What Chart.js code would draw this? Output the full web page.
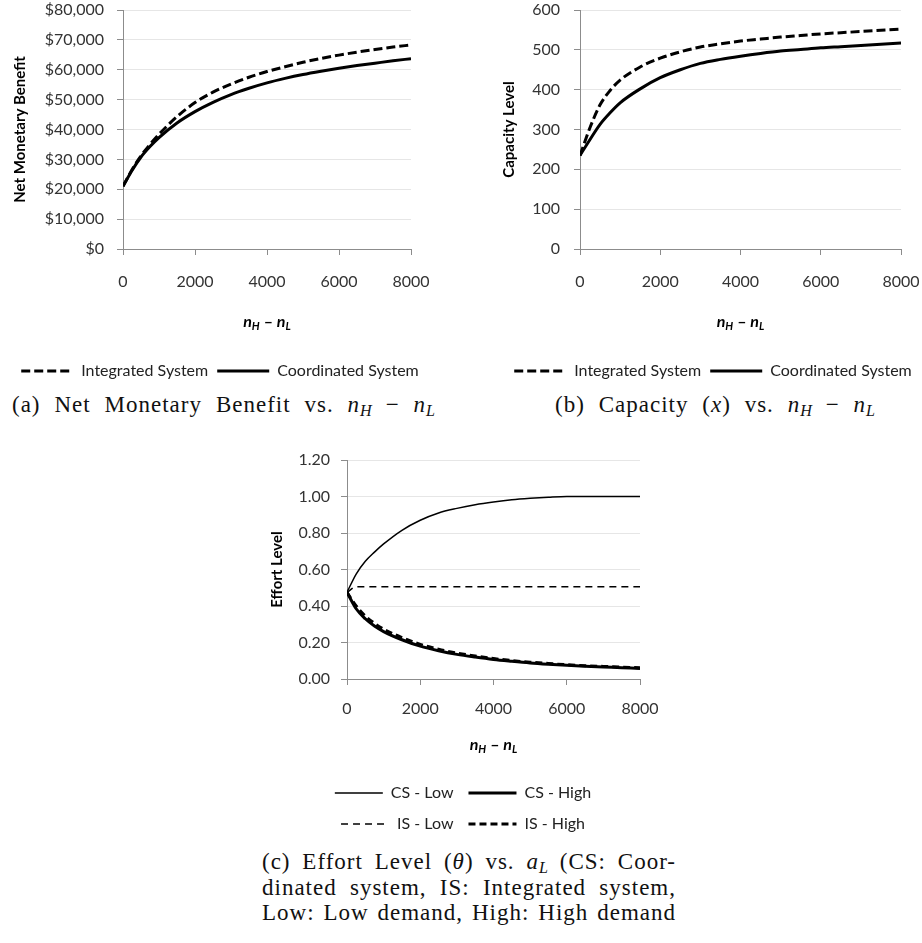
<!DOCTYPE html>
<html><head><meta charset="utf-8">
<script src="https://cdn.jsdelivr.net/npm/chart.js@4"></script>
<style>
html,body{margin:0;padding:0;background:#fff;width:922px;height:943px;overflow:hidden;position:relative;}
canvas{position:absolute;}
.cap{position:absolute;font-family:'Liberation Serif','Times New Roman',serif;font-size:23px;letter-spacing:1px;color:#111;text-align:justify;text-align-last:justify;line-height:26px;height:26px;overflow:visible;}
.cap sub{font-size:70%;vertical-align:-4px;line-height:0;letter-spacing:0;}
</style></head><body>
<canvas id="ca" width="440" height="392" style="left:0;top:0"></canvas>
<canvas id="cb" width="450" height="392" style="left:488px;top:0"></canvas>
<canvas id="cc" width="398" height="404" style="left:260px;top:440px"></canvas>
<div class="cap" style="left:12px;top:392px;width:423px">(a) Net Monetary Benefit vs. <i>n</i><sub><i>H</i></sub> − <i>n</i><sub><i>L</i></sub></div>
<div class="cap" style="left:555px;top:392px;width:320px">(b) Capacity (<i>x</i>) vs. <i>n</i><sub><i>H</i></sub> − <i>n</i><sub><i>L</i></sub></div>
<div class="cap" style="left:262px;top:849px;width:414px">(c) Effort Level (<i>θ</i>) vs. <i>a</i><sub><i>L</i></sub> (CS: Coor-</div>
<div class="cap" style="left:262px;top:875px;width:414px">dinated system, IS: Integrated system,</div>
<div class="cap" style="left:262px;top:900px;width:414px">Low: Low demand, High: High demand</div>
<script>
// ---------- data ----------
const xValues = [0,250,500,750,1000,1500,2000,2500,3000,3500,4000,4500,5000,5500,6000,6500,7000,7500,8000];
const xTickLabels = ['0','2000','4000','6000','8000'];

const benefitIntegrated  = [21000,26500,31200,35000,38400,44300,49000,52500,55200,57500,59400,61000,62500,63800,64900,65900,66800,67600,68300];
const benefitCoordinated = [21000,26300,30800,34300,37300,42200,46000,49100,51700,53800,55600,57100,58400,59500,60500,61400,62200,63000,63700];
const benefitTickLabels  = ['$0','$10,000','$20,000','$30,000','$40,000','$50,000','$60,000','$70,000','$80,000'];

const capacityIntegrated  = [235,305,362,398,424,457,479,495,507,515,522,527,532,536,540,543,546,549,552];
const capacityCoordinated = [235,275,313,342,367,402,430,450,466,476,484,491,497,501,505,508,511,514,517];
const capacityTickLabels  = ['0','100','200','300','400','500','600'];

const effortCSLow  = [0.475,0.575,0.645,0.695,0.74,0.815,0.87,0.91,0.935,0.955,0.97,0.982,0.99,0.996,1.0,1.0,1.0,1.0,1.0];
const effortCSHigh = [0.475,0.385,0.33,0.29,0.26,0.215,0.18,0.155,0.135,0.12,0.107,0.097,0.088,0.081,0.075,0.07,0.066,0.062,0.058];
const effortISLow  = [0.475,0.505,0.505,0.505,0.505,0.505,0.505,0.505,0.505,0.505,0.505,0.505,0.505,0.505,0.505,0.505,0.505,0.505,0.505];
const effortISHigh = [0.475,0.40,0.345,0.305,0.273,0.227,0.19,0.163,0.142,0.126,0.112,0.101,0.092,0.085,0.078,0.073,0.069,0.065,0.062];
const effortTickLabels = ['0.00','0.20','0.40','0.60','0.80','1.00','1.20'];

const seriesNamesAB = ['Integrated System','Coordinated System'];
const seriesNamesC  = ['CS - Low','CS - High','IS - Low','IS - High'];
const yAxisTitles = ['Net Monetary Benefit','Capacity Level','Effort Level'];
const xTitleParts = ['n','H',' \u2013 ','n','L'];

// ---------- helpers ----------
Chart.defaults.font.family = 'Lato';
const pts = arr => xValues.map((x,i)=>({x:x, y:arr[i]}));
const series = (label, arr, width, dash) => ({
  label, data: pts(arr), borderColor:'#000', backgroundColor:'#000',
  borderWidth: width, borderDash: dash, pointRadius:0, pointHoverRadius:0,
  cubicInterpolationMode:'monotone', fill:false
});

const xTitlePlugin = {
  id:'xTitle',
  afterDraw(chart, args, opts){
    const {ctx, chartArea} = chart;
    const big = 'italic bold 16px Lato', small = 'italic bold 11px Lato', dashF = 'bold 16px Lato';
    const fonts = [big, small, dashF, big, small];
    const dy = [0, 4, 0, 0, 4];
    ctx.save();
    let w = 0; const ws = [];
    xTitleParts.forEach((t,i)=>{ ctx.font = fonts[i]; const m = ctx.measureText(t).width; ws.push(m); w += m; });
    let x = (chartArea.left + chartArea.right)/2 - w/2;
    const y = chartArea.bottom + opts.offset;
    ctx.fillStyle = '#000'; ctx.textBaseline = 'middle'; ctx.textAlign = 'left';
    xTitleParts.forEach((t,i)=>{ ctx.font = fonts[i]; ctx.fillText(t, x, y + dy[i]); x += ws[i]; });
    ctx.restore();
  }
};

const legendLabels = chart =>
  Chart.defaults.plugins.legend.labels.generateLabels(chart).map(it => {
    const ds = chart.data.datasets[it.datasetIndex];
    return Object.assign(it, {lineDash: ds.borderDash, lineWidth: ds.borderWidth,
                              strokeStyle: ds.borderColor, fillStyle: ds.borderColor, pointStyle:'line'});
  });

function build(id, o){
  return new Chart(document.getElementById(id), {
    type:'line',
    data:{datasets:o.datasets},
    plugins:[xTitlePlugin],
    options:{
      responsive:false, animation:false, devicePixelRatio:1,
      layout:{padding:o.padding},
      plugins:{
        legend:{position:'bottom', align:'center',
          labels:{usePointStyle:true, pointStyle:'line', pointStyleWidth:o.legendLine,
                  padding:o.legendPad, color:'#222', font:{family:'Lato', size:16},
                  generateLabels:legendLabels}},
        tooltip:{enabled:false},
        xTitle:{offset:o.xTitleOffset}
      },
      scales:{
        x:{type:'linear', position:'bottom', min:0, max:8000,
           ticks:{stepSize:2000, padding:o.xTickPad, color:'#333', font:{size:16},
                  callback:(v,i)=>xTickLabels[i]},
           grid:{drawOnChartArea:false, drawTicks:true, tickLength:6, tickColor:'#8c8c8c'},
           border:{display:true, color:'#8c8c8c', width:1},
           afterFit:s=>{s.height = o.xHeight; s.paddingLeft = 0; s.paddingRight = 0;}},
        y:{type:'linear', position:'left', min:0, max:o.yMax,
           ticks:{stepSize:o.yStep, padding:o.yTickPad, color:'#333', font:{size:16},
                  callback:(v,i)=>o.yLabels[i]},
           grid:{color:'#e6e6e6', lineWidth:1, tickLength:6, tickColor:'#8c8c8c'},
           border:{display:true, color:'#8c8c8c', width:1},
           title:{display:true, text:o.yTitle, color:'#000', padding:{top:o.yTitlePad, bottom:0},
                  font:{family:'Lato', size:15, weight:'bold'}},
           afterFit:s=>{s.width = o.yWidth; s.paddingTop = 0; s.paddingBottom = 0;}},
        pad:{type:'linear', position:'right', display:true,
           grid:{display:false, drawTicks:false}, border:{display:false},
           ticks:{display:false}, title:{display:false},
           afterFit:s=>{s.width = o.rightWidth; s.paddingTop = 0; s.paddingBottom = 0;}}
      }
    }
  });
}

build('ca', {
  datasets:[series(seriesNamesAB[0], benefitIntegrated, 3, [9,4]),
            series(seriesNamesAB[1], benefitCoordinated, 3, [])],
  padding:{top:10, left:0, right:0, bottom:3},
  yWidth:123, rightWidth:29, xHeight:105, yMax:80000, yStep:10000, yLabels:benefitTickLabels,
  yTickPad:13, xTickPad:17, yTitle:yAxisTitles[0], yTitlePad:11, legendLine:52, legendPad:9, xTitleOffset:73
});
build('cb', {
  datasets:[series(seriesNamesAB[0], capacityIntegrated, 3, [9,4]),
            series(seriesNamesAB[1], capacityCoordinated, 3, [])],
  padding:{top:10, left:0, right:0, bottom:3},
  yWidth:92, rightWidth:37, xHeight:105, yMax:600, yStep:100, yLabels:capacityTickLabels,
  yTickPad:14, xTickPad:17, yTitle:yAxisTitles[1], yTitlePad:12, legendLine:52, legendPad:9, xTitleOffset:73
});
build('cc', {
  datasets:[series(seriesNamesC[0], effortCSLow, 1.5, []),
            series(seriesNamesC[1], effortCSHigh, 3, []),
            series(seriesNamesC[2], effortISLow, 1.5, [7,5]),
            series(seriesNamesC[3], effortISHigh, 3, [7,4])],
  padding:{top:20, left:8, right:0, bottom:2},
  yWidth:79, rightWidth:18, xHeight:91, yMax:1.2, yStep:0.2, yLabels:effortTickLabels,
  yTickPad:11, xTickPad:14, yTitle:yAxisTitles[2], yTitlePad:0, legendLine:48, legendPad:15, xTitleOffset:66
});
</script>
</body></html>
